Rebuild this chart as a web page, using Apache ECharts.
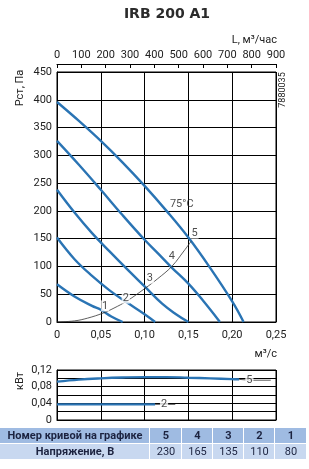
<!DOCTYPE html>
<html>
<head>
<meta charset="utf-8">
<script src="https://cdn.jsdelivr.net/npm/echarts@6/dist/echarts.min.js"></script>
<style>
html, body { margin: 0; padding: 0; background: #fff; }
#chart { width: 309px; height: 469px; }
</style>
</head>
<body>
<div id="chart"></div>
<script>
// кривые давления: Q, м³/с -> Pст, Па
var curve5 = [[0, 396], [0.025, 362], [0.05, 326], [0.075, 287], [0.10, 245], [0.125, 200], [0.15, 152], [0.175, 97], [0.20, 37], [0.213, 0]];
var curve4 = [[0, 326], [0.025, 283], [0.05, 238], [0.075, 192], [0.10, 148], [0.115, 124], [0.131, 98], [0.15, 69], [0.168, 36], [0.186, 0]];
var curve3 = [[0, 238], [0.02, 197], [0.04, 160], [0.06, 127], [0.08, 95], [0.10, 64], [0.12, 33], [0.135, 15], [0.15, 0]];
var curve2 = [[0, 152], [0.02, 113], [0.04, 83], [0.06, 57], [0.08, 35], [0.10, 14], [0.112, 0]];
var curve1 = [[0, 68], [0.02, 46], [0.04, 29], [0.05, 22], [0.062, 10], [0.075, 0]];
// характеристика сети
var systemCurve = [[0, 0], [0.02, 2], [0.035, 7], [0.0525, 16], [0.065, 25], [0.08, 38], [0.10, 60], [0.115, 78], [0.131, 100], [0.145, 128], [0.153, 145]];
var pressureLabels = [[0.055, 29, '1'], [0.0785, 43, '2'], [0.106, 79, '3'], [0.131, 119, '4'], [0.157, 160, '5']];
var tempLabel = [[0.1424, 212, '75°C']];

// мощность, кВт
var power5 = [[0, 0.092], [0.025, 0.097], [0.05, 0.100], [0.075, 0.102], [0.10, 0.103], [0.125, 0.103], [0.15, 0.1015], [0.175, 0.100], [0.20, 0.098], [0.208, 0.0975]];
var power2 = [[0, 0.0375], [0.05, 0.0375], [0.10, 0.0375], [0.112, 0.0375]];
var power5Lead = [[0.208, 0.0975], [0.22, 0.0955], [0.244, 0.0955]];
var power2Lead = [[0.112, 0.0375], [0.135, 0.0375]];
var powerLabels = [[0.2196, 0.0955, '5'], [0.1222, 0.0375, '2']];

// таблица
var curveNumbers = ['5', '4', '3', '2', '1'];
var voltages = ['230', '165', '135', '110', '80'];

var blue = '#2a74b4';
var font = 'Roboto';

function commaFmt(v) {
    if (v === 0) return '0';
    return v.toFixed(2).replace('.', ',');
}

function labelPoints(arr) {
    return arr.map(function (p) { return { value: [p[0], p[1]], name: p[2] }; });
}

function curveSeries(data, color, width) {
    return { type: 'line', xAxisIndex: 0, yAxisIndex: 0, data: data, smooth: 0.4, showSymbol: false, lineStyle: { color: color, width: width } };
}

function labelSeries(data, xi, yi, bg) {
    return {
        type: 'scatter', xAxisIndex: xi, yAxisIndex: yi, data: labelPoints(data), symbolSize: 1, z: 5,
        itemStyle: { color: 'rgba(0,0,0,0)' }, silent: true,
        label: { show: true, position: 'inside', formatter: '{b}', color: '#222', fontSize: 11, backgroundColor: bg, padding: [0, 1] }
    };
}

var myChart = echarts.init(document.getElementById('chart'));

var graphics = [
    { type: 'text', x: 167, y: 14, style: { text: 'IRB 200 A1', font: 'bold 14px "DejaVu Sans"', fill: '#2b2b2b', textAlign: 'center', textVerticalAlign: 'middle' } },
    { type: 'text', x: 277, y: 40, style: { text: 'L, м³/час', font: '11px ' + font, fill: '#222', textAlign: 'right', textVerticalAlign: 'middle' } },
    { type: 'text', x: 277, y: 354, style: { text: 'м³/с', font: '11px ' + font, fill: '#222', textAlign: 'right', textVerticalAlign: 'middle' } },
    { type: 'text', x: 20, y: 88, rotation: Math.PI / 2, style: { text: 'Pст, Па', font: '11px ' + font, fill: '#222', textAlign: 'center', textVerticalAlign: 'middle' } },
    { type: 'text', x: 20, y: 381, rotation: Math.PI / 2, style: { text: 'кВт', font: '11px ' + font, fill: '#222', textAlign: 'center', textVerticalAlign: 'middle' } },
    { type: 'text', x: 283, y: 90, rotation: Math.PI / 2, style: { text: '7880035', font: '9px ' + font, fill: '#222', textAlign: 'center', textVerticalAlign: 'middle' } }
];

// таблица внизу
var colX = [0, 150, 182, 213, 244, 275, 307];
var rowY = [428, 444, 460];
var rowFill = ['#9fbbe2', '#c8d8f0'];
for (var r = 0; r < 2; r++) {
    for (var c = 0; c < 6; c++) {
        graphics.push({ type: 'rect', shape: { x: colX[c], y: rowY[r], width: colX[c + 1] - colX[c] - 1, height: rowY[r + 1] - rowY[r] - 1 }, style: { fill: rowFill[r] } });
        var txt = c === 0 ? (r === 0 ? 'Номер кривой на графике' : 'Напряжение, В') : (r === 0 ? curveNumbers[c - 1] : voltages[c - 1]);
        var bold = (r === 0 || c === 0) ? 'bold ' : '';
        graphics.push({ type: 'text', x: (colX[c] + colX[c + 1]) / 2, y: (rowY[r] + rowY[r + 1]) / 2, style: { text: txt, font: bold + '11px ' + font, fill: '#1c2340', textAlign: 'center', textVerticalAlign: 'middle' } });
    }
}

var option = {
    animation: false,
    textStyle: { fontFamily: font },
    grid: [
        { left: 57, top: 72, width: 219, height: 250, show: true, borderColor: '#000', borderWidth: 1, outerBoundsMode: 'none' },
        { left: 57, top: 370, width: 219, height: 50, show: true, borderColor: '#000', borderWidth: 1, outerBoundsMode: 'none' }
    ],
    xAxis: [
        {
            gridIndex: 0, type: 'value', min: 0, max: 0.25, interval: 0.05,
            axisLine: { lineStyle: { color: '#000' } }, axisTick: { show: false },
            splitLine: { lineStyle: { color: '#000', width: 1 } },
            axisLabel: { formatter: commaFmt, color: '#222', fontSize: 11, margin: 8 }
        },
        {
            gridIndex: 0, type: 'value', position: 'top', offset: 8, min: 0, max: 900, interval: 100,
            axisLine: { show: true, lineStyle: { color: '#000' } },
            axisTick: { show: true, inside: true, length: 4, lineStyle: { color: '#000' } },
            splitLine: { show: false },
            axisLabel: { color: '#222', fontSize: 11, margin: 3 }
        },
        {
            gridIndex: 1, type: 'value', min: 0, max: 0.25, interval: 0.05,
            axisLine: { lineStyle: { color: '#000' } }, axisTick: { show: false },
            splitLine: { lineStyle: { color: '#000', width: 1 } },
            axisLabel: { show: false }
        }
    ],
    yAxis: [
        {
            gridIndex: 0, type: 'value', min: 0, max: 450, interval: 50,
            axisLine: { show: true, lineStyle: { color: '#000' } }, axisTick: { show: false },
            splitLine: { lineStyle: { color: '#000', width: 1 } },
            axisLabel: { color: '#222', fontSize: 11, margin: 5 }
        },
        {
            gridIndex: 1, type: 'value', min: 0, max: 0.12, interval: 0.02,
            axisLine: { show: true, lineStyle: { color: '#000' } }, axisTick: { show: false },
            splitLine: { lineStyle: { color: '#000', width: 1 } },
            axisLabel: {
                color: '#222', fontSize: 11, margin: 5,
                formatter: function (v) {
                    var k = Math.round(v * 100);
                    if (k % 4 !== 0) return '';
                    return commaFmt(v);
                }
            }
        }
    ],
    series: [
        curveSeries(curve5, blue, 2.4),
        curveSeries(curve4, blue, 2.4),
        curveSeries(curve3, blue, 2.4),
        curveSeries(curve2, blue, 2.4),
        curveSeries(curve1, blue, 2.4),
        curveSeries(systemCurve, '#333', 0.8),
        labelSeries(pressureLabels, 0, 0, '#fff'),
        labelSeries(tempLabel, 0, 0, 'transparent'),
        { type: 'line', xAxisIndex: 2, yAxisIndex: 1, data: power5, smooth: 0.4, showSymbol: false, lineStyle: { color: blue, width: 2.4 } },
        { type: 'line', xAxisIndex: 2, yAxisIndex: 1, data: power2, showSymbol: false, lineStyle: { color: blue, width: 2.4 } },
        { type: 'line', xAxisIndex: 2, yAxisIndex: 1, data: power5Lead, showSymbol: false, lineStyle: { color: '#333', width: 0.8 } },
        { type: 'line', xAxisIndex: 2, yAxisIndex: 1, data: power2Lead, showSymbol: false, lineStyle: { color: '#333', width: 0.8 } },
        labelSeries(powerLabels, 2, 1, '#fff')
    ],
    graphic: graphics
};

myChart.setOption(option);
</script>
</body>
</html>
